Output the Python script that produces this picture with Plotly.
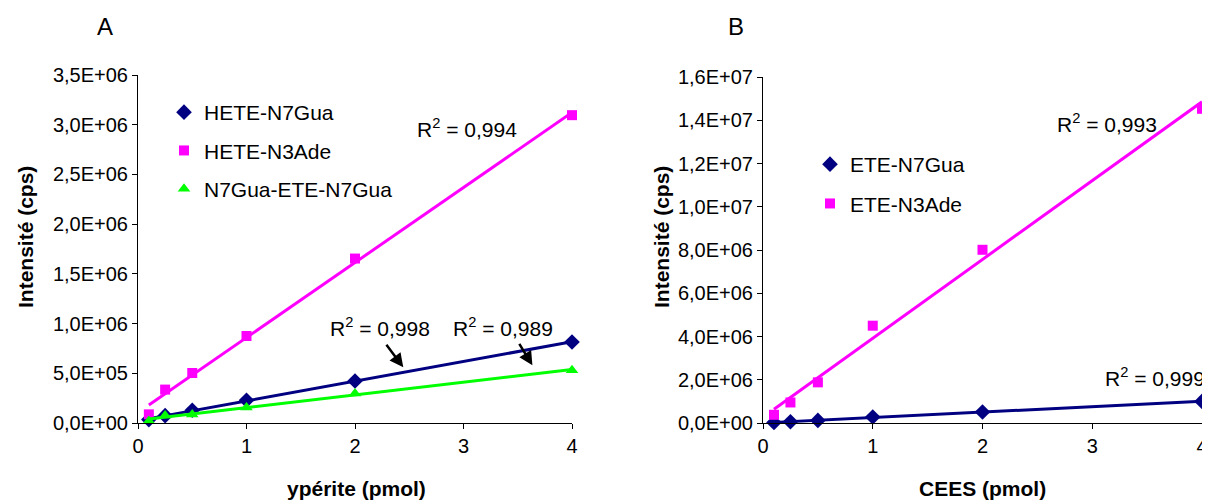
import numpy as np
import plotly.graph_objects as go

# ---------------- data ----------------
dose_pmol = [0.1, 0.25, 0.5, 1, 2, 4]

# Panel A (ypérite)
hete_n7gua = [3.4e4, 7.4e4, 1.28e5, 2.28e5, 4.22e5, 8.15e5]
hete_n3ade = [8.7e4, 3.36e5, 5.03e5, 8.75e5, 1.654e6, 3.096e6]
n7gua_ete_n7gua = [2.0e4, 7.5e4, 8.5e4, 1.55e5, 2.96e5, 5.3e5]

# Panel B (CEES)
ete_n7gua = [2.0e4, 6.0e4, 1.2e5, 2.8e5, 5.1e5, 1.0e6]
ete_n3ade = [3.8e5, 9.5e5, 1.88e6, 4.5e6, 8.01e6, 1.453e7]

x_ticks = [0, 1, 2, 3, 4]
yA_ticks = [0, 5e5, 1e6, 1.5e6, 2e6, 2.5e6, 3e6, 3.5e6]
yA_labels = ["0,0E+00", "5,0E+05", "1,0E+06", "1,5E+06", "2,0E+06",
             "2,5E+06", "3,0E+06", "3,5E+06"]
yB_ticks = [0, 2e6, 4e6, 6e6, 8e6, 1e7, 1.2e7, 1.4e7, 1.6e7]
yB_labels = ["0,0E+00", "2,0E+06", "4,0E+06", "6,0E+06", "8,0E+06",
             "1,0E+07", "1,2E+07", "1,4E+07", "1,6E+07"]

NAVY = "#000080"
MAGENTA = "#FF00FF"
GREEN = "#00FF00"
FONT = "Liberation Sans, Arial, sans-serif"

fig = go.Figure()


def add_series(x, y, name, color, symbol, xa, ya, legend, size=10):
    xs = np.array(x, dtype=float)
    slope, icpt = np.polyfit(xs, np.array(y, dtype=float), 1)
    xl = np.array([xs.min(), xs.max()])
    fig.add_trace(go.Scatter(x=xl, y=slope * xl + icpt, mode="lines",
                             line=dict(color=color, width=3),
                             showlegend=False, xaxis=xa, yaxis=ya,
                             hoverinfo="skip", cliponaxis=False))
    fig.add_trace(go.Scatter(x=x, y=y, mode="markers", name=name,
                             marker=dict(color=color, symbol=symbol, size=size),
                             xaxis=xa, yaxis=ya, legend=legend,
                             legendgroup=name, cliponaxis=False))


add_series(dose_pmol, hete_n7gua, "HETE-N7Gua", NAVY, "diamond", "x", "y", "legend", 12)
add_series(dose_pmol, hete_n3ade, "HETE-N3Ade", MAGENTA, "square", "x", "y", "legend", 10)
add_series(dose_pmol, n7gua_ete_n7gua, "N7Gua-ETE-N7Gua", GREEN, "triangle-up", "x", "y", "legend", 11)
add_series(dose_pmol, ete_n7gua, "ETE-N7Gua", NAVY, "diamond", "x2", "y2", "legend2", 12)
add_series(dose_pmol, ete_n3ade, "ETE-N3Ade", MAGENTA, "square", "x2", "y2", "legend2", 10)

# the page has an 8px body margin: the figure starts 8px in from the window edge
OFF = 8
W, H = 1210 - OFF, 501 - OFF


def px(v):
    return (v - OFF) / W


def py(v):
    return (H - (v - OFF)) / H


axis_common = dict(showline=True, linecolor="black", linewidth=1,
                   ticks="outside", ticklen=5, tickcolor="black",
                   showgrid=False, zeroline=False, automargin=False,
                   tickfont=dict(family=FONT, size=20, color="black"))

fig.update_layout(
    template="none",
    width=W, height=H,
    margin=dict(l=0, r=0, t=0, b=0, pad=0),
    paper_bgcolor="white", plot_bgcolor="white",
    font=dict(family=FONT, color="black"),
    xaxis=dict(domain=[px(138), px(572)], range=[0, 4], tickvals=x_ticks,
               anchor="y", **axis_common),
    yaxis=dict(domain=[py(423), py(75)], range=[0, 3.5e6], tickvals=yA_ticks,
               ticktext=yA_labels, anchor="x", **axis_common),
    xaxis2=dict(domain=[px(763), px(1202)], range=[0, 4], tickvals=x_ticks,
                anchor="y2", **axis_common),
    yaxis2=dict(domain=[py(423), py(77)], range=[0, 1.6e7], tickvals=yB_ticks,
                ticktext=yB_labels, anchor="x2", **axis_common),
    legend=dict(x=px(164), y=py(92), xanchor="left", yanchor="top",
                bgcolor="rgba(0,0,0,0)", tracegroupgap=8, borderwidth=0,
                font=dict(family=FONT, size=21, color="black")),
    legend2=dict(x=px(810), y=py(144), xanchor="left", yanchor="top",
                 bgcolor="rgba(0,0,0,0)", tracegroupgap=9, borderwidth=0,
                 font=dict(family=FONT, size=21, color="black")),
)

ann_font = dict(family=FONT, size=21, color="black")
title_font = dict(family=FONT, size=21, color="black")
C = dict(xanchor="center", yanchor="middle", showarrow=False)

annotations = [
    # panel letters
    dict(text="A", x=px(105), y=py(27), xref="paper", yref="paper",
         font=dict(family=FONT, size=24, color="black"), **C),
    dict(text="B", x=px(736), y=py(27), xref="paper", yref="paper",
         font=dict(family=FONT, size=24, color="black"), **C),
    # axis titles
    dict(text="<b>Intensité (cps)</b>", x=px(25), y=py(237), xref="paper", yref="paper",
         textangle=-90, font=title_font, **C),
    dict(text="<b>Intensité (cps)</b>", x=px(661), y=py(237), xref="paper", yref="paper",
         textangle=-90, font=title_font, **C),
    dict(text="<b>ypérite (pmol)</b>", x=px(356), y=py(488), xref="paper", yref="paper",
         font=title_font, **C),
    dict(text="<b>CEES (pmol)</b>", x=px(983), y=py(488), xref="paper", yref="paper",
         font=title_font, **C),
    # R² labels
    dict(text="R<sup>2</sup> = 0,994", x=3.035, y=2.965e6, xref="x", yref="y",
         font=ann_font, **C),
    dict(text="R<sup>2</sup> = 0,998", x=2.232, y=9.63e5, xref="x", yref="y",
         font=ann_font, **C),
    dict(text="R<sup>2</sup> = 0,989", x=3.367, y=9.63e5, xref="x", yref="y",
         font=ann_font, **C),
    dict(text="R<sup>2</sup> = 0,993", x=3.136, y=1.389e7, xref="x2", yref="y2",
         font=ann_font, **C),
    dict(text="R<sup>2</sup> = 0,999", x=3.57, y=2.14e6, xref="x2", yref="y2",
         font=ann_font, **C),
    # arrows
    dict(text="", x=2.445, y=5.6e5, xref="x", yref="y", ax=-18, ay=-24,
         showarrow=True, arrowhead=2, arrowsize=1.1, arrowwidth=2.5, arrowcolor="black"),
    dict(text="", x=3.635, y=5.8e5, xref="x", yref="y", ax=-14, ay=-23,
         showarrow=True, arrowhead=2, arrowsize=1.1, arrowwidth=2.5, arrowcolor="black"),
]
fig.update_layout(annotations=annotations)

fig.write_html("out.html")
